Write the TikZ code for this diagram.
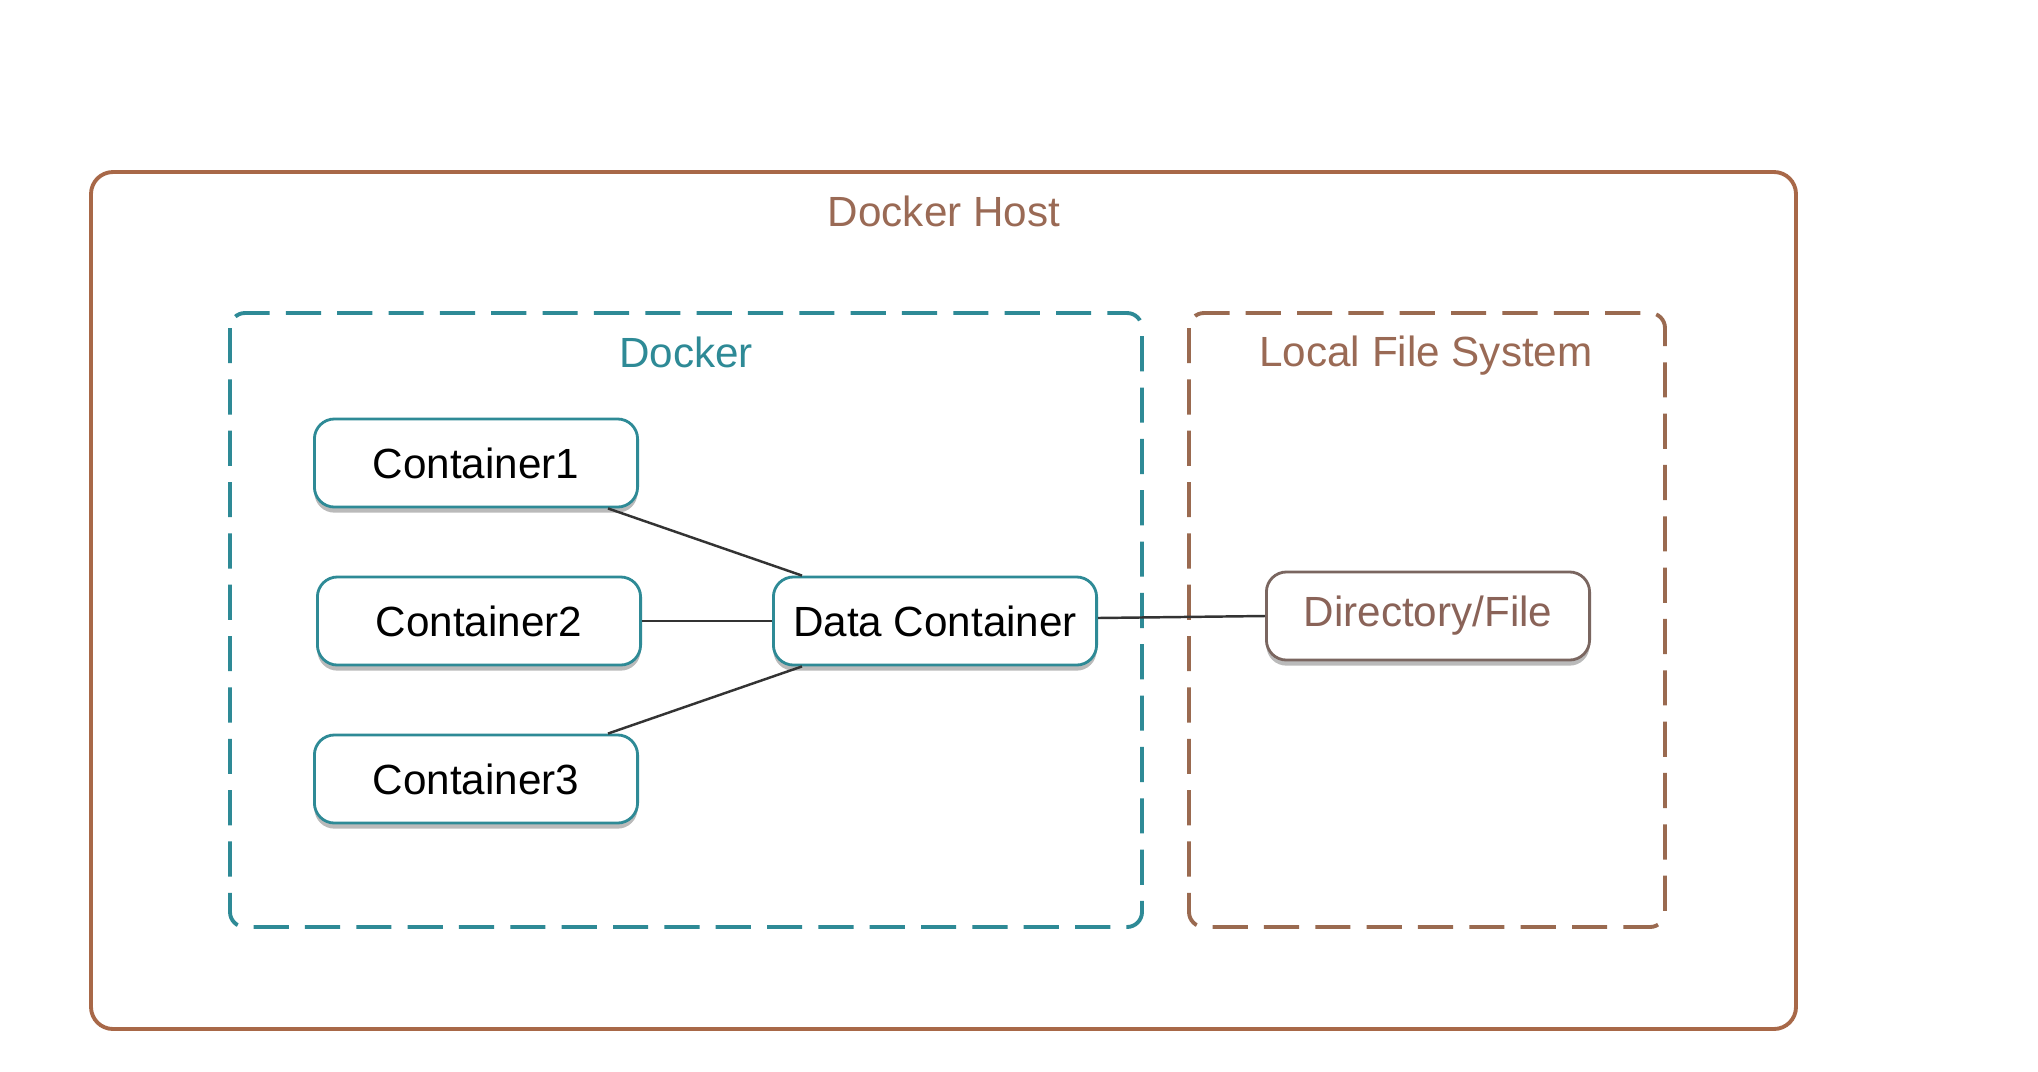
\documentclass[tikz,border=0pt]{standalone}
\usepackage{fontspec}
\setmainfont{Liberation Sans}
\usetikzlibrary{calc,shadows}
\definecolor{hostbrown}{HTML}{A86848}
\definecolor{hosttext}{HTML}{9A6A55}
\definecolor{dockteal}{HTML}{2E8A96}
\definecolor{lfsbrown}{HTML}{9A6A50}
\definecolor{dirtext}{HTML}{8A6358}
\definecolor{dirborder}{HTML}{7A6660}
\begin{document}
\begin{tikzpicture}[x=0.01cm,y=-0.01cm,
  font=\fontsize{12}{14}\selectfont,
  cbox/.style={draw=dockteal, line width=0.8pt, fill=white, rounded corners=0.2cm,
    minimum width=3.23cm, minimum height=0.88cm, inner sep=0pt,
    drop shadow={shadow xshift=0pt, shadow yshift=-1.6pt, opacity=0.45, fill=black!60}},
  dbox/.style={cbox, draw=dirborder, text=dirtext},
  link/.style={draw=black!80, line width=0.7pt},
  frameline/.style={line width=1.1pt, dash pattern=on 10pt off 4.6pt, rounded corners=0.15cm}]
\useasboundingbox (0,0) rectangle (2038,1072);
\fill[white] (0,0) rectangle (2038,1072);
% Docker Host
\draw[hostbrown, line width=1.1pt, rounded corners=0.22cm] (91,172) rectangle (1796,1029);
\node[text=hosttext] (hostlbl) at (944,211) {Docker Host};
% Docker frame
\draw[frameline, dockteal] (230,313) rectangle (1142,927);
\node[text=dockteal] (docklbl) at (686,352) {Docker};
% Local File System frame
\draw[frameline, lfsbrown] (1189,313) rectangle (1665,927);
\node[text=hosttext] (lfslbl) at (1426,356) {Local File System};
% nodes
\node[cbox] (c1) at (476,463) {Container1};
\node[cbox] (c2) at (479,621) {Container2};
\node[cbox] (c3) at (476,779) {Container3};
\node[cbox] (dc) at (935,621) {Data Container};
\node[dbox] (dir) at (1428,616) {Directory/File};
% links
\draw[link] ($(c1.south east)+(-31,0)$) -- ($(dc.north west)+(30,0)$);
\draw[link] (c2.east) -- (dc.west);
\draw[link] ($(c3.north east)+(-31,0)$) -- ($(dc.south west)+(30,0)$);
\draw[link] ($(dc.east)+(0,-3)$) -- (dir.west);
\end{tikzpicture}
\end{document}
